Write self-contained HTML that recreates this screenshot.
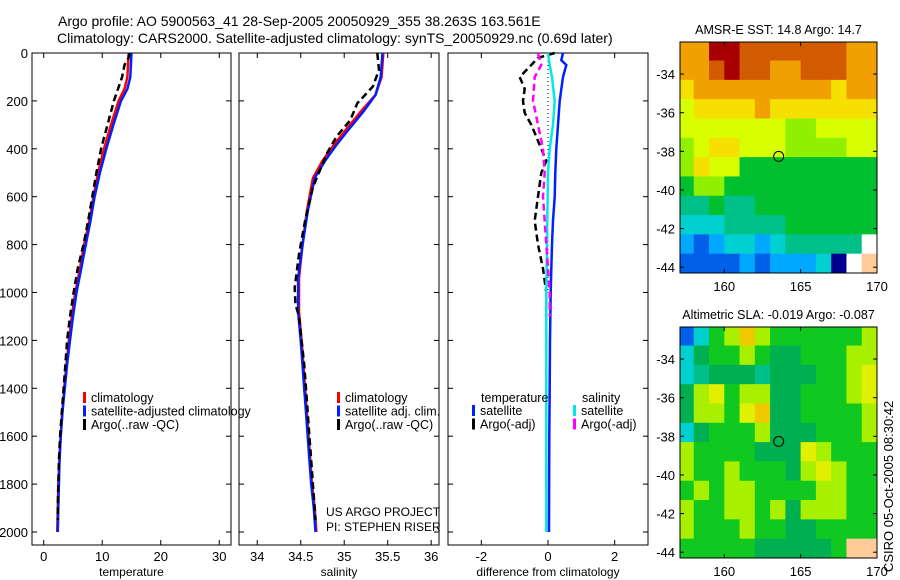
<!DOCTYPE html>
<html><head><meta charset="utf-8"><style>
html,body{margin:0;padding:0;background:#fff;}
svg{display:block;font-family:"Liberation Sans",sans-serif;}
</style></head><body>
<svg id="fig" width="900" height="580" viewBox="0 0 900 580">
<text x="58" y="26" font-size="14">Argo profile: AO 5900563_41 28-Sep-2005 20050929_355 38.263S 163.561E</text>
<text x="57" y="43" font-size="14">Climatology: CARS2000. Satellite-adjusted climatology: synTS_20050929.nc (0.69d later)</text>
<text x="326" y="516" font-size="12">US ARGO PROJECT</text>
<text x="326" y="531" font-size="12">PI: STEPHEN RISER</text>
<text transform="translate(893,572) rotate(-90)" font-size="13">CSIRO 05-Oct-2005 08:30:42</text>
</svg>
<script>
// ---------- DATA ----------
const depthTicks=[0,200,400,600,800,1000,1200,1400,1600,1800,2000];
const tempTicks=[0,10,20,30];
const salTicks=[34,34.5,35,35.5,36];
const diffTicks=[-2,0,2];
const tDepth=[0,100,150,200,300,400,500,600,700,800,900,1000,1100,1200,1300,1400,1500,1600,1700,1800,1900,2000];
const tClim=[14.5,14.3,13.8,12.8,11.5,10.3,9.3,8.5,7.8,6.9,6.2,5.4,4.8,4.3,3.9,3.5,3.2,2.9,2.7,2.5,2.4,2.3];
const tSat=[15.0,14.8,14.3,13.2,11.9,10.7,9.6,8.7,8.0,7.2,6.4,5.6,5.0,4.5,4.0,3.6,3.2,2.9,2.7,2.6,2.5,2.4];
const aDepth=[0,20,50,100,200,300,400,500,600,700,800,900,1000,1100,1200,1300,1400,1500,1600,1700,1800,1900,1950];
const tArgo=[14.7,14.5,13.8,13.4,12.0,10.9,9.8,9.0,8.3,7.6,6.8,5.8,5.1,4.5,4.0,3.7,3.4,3.1,2.8,2.6,2.5,2.4,2.4];
const sDepth=[0,100,175,245,320,384,450,522,662,802,940,1080,1200,1300,1400,1500,1600,1700,1800,1900,2000];
const sClim=[35.45,35.43,35.36,35.19,35.02,34.88,34.75,34.64,34.57,34.52,34.48,34.48,34.51,34.53,34.55,34.57,34.59,34.61,34.63,34.66,34.68];
const sSat=[35.44,35.42,35.36,35.22,35.05,34.91,34.78,34.66,34.58,34.52,34.47,34.47,34.5,34.52,34.54,34.56,34.58,34.6,34.62,34.65,34.67];
const sArgoDepth=[0,70,140,210,280,350,420,490,560,700,840,980,1050,1100,1200,1300,1400,1500,1600,1700,1800,1900,1950];
const sArgo=[35.38,35.4,35.33,35.15,35.07,34.91,34.8,34.72,34.64,34.55,34.48,34.43,34.44,34.48,34.51,34.54,34.56,34.58,34.6,34.62,34.64,34.66,34.67];
const dTSatDepth=[0,30,50,100,200,300,400,500,600,700,800,900,1000,1200,1400,1600,2000];
const dTSat=[0.45,0.4,0.55,0.45,0.35,0.3,0.25,0.22,0.2,0.15,0.12,0.1,0.08,0.06,0.05,0.04,0.03];
const dTArgoDepth=[0,20,50,100,150,200,250,300,350,400,450,500,600,700,800,900,1000,1050];
const dTArgo=[0.2,-0.3,-0.5,-0.85,-0.7,-0.75,-0.7,-0.5,-0.35,-0.2,-0.05,-0.2,-0.3,-0.4,-0.3,-0.15,-0.05,-0.05];
const dSSatDepth=[0,50,100,200,300,400,500,700,1000,2000];
const dSSat=[0.0,0.05,0.12,0.2,0.15,0.05,0.0,-0.02,-0.05,-0.05];
const dSArgoDepth=[0,50,100,200,300,400,500,600,700,800,900,1000,1100];
const dSArgo=[-0.3,-0.2,-0.4,-0.45,-0.3,-0.15,-0.1,-0.15,-0.1,-0.05,0.0,0.05,0.05];
const lonTicks=[160,165,170];
const latTicks=[-34,-36,-38,-40,-42,-44];
const palette=["#a80000","#d25a00","#f0a000","#f5e000","#d8ff00","#90f000","#00c030","#00c08a","#00d0d0","#00a8ff","#0060e8","#000090","#00d000","#ffffff","#ffcc99","#10c820","#00b050","#a8f000","#e0f000","#f0c800"];
const sstGrid=[
[2,2,0,0,1,1,1,1,1,1,1,2,2],
[2,2,1,0,1,1,2,2,1,1,1,2,2],
[3,2,2,2,2,2,2,2,2,2,3,2,2],
[4,3,3,3,3,2,3,3,3,3,3,3,3],
[4,4,4,4,4,4,4,5,5,4,4,4,4],
[5,4,3,3,4,4,4,5,5,5,5,4,4],
[5,3,4,4,6,6,6,6,6,6,6,6,6],
[6,5,5,6,6,6,6,6,6,6,6,6,6],
[7,7,6,7,7,6,6,6,6,6,6,6,6],
[8,8,8,7,7,7,7,6,6,6,6,6,6],
[9,10,9,8,8,9,8,7,7,7,7,7,13],
[10,10,10,10,9,10,9,9,9,8,11,13,14]];
const slaGrid=[
[10,8,15,17,19,17,15,15,15,15,15,15,17],
[8,16,15,15,17,15,16,16,15,15,15,17,17],
[8,7,16,16,16,7,16,16,16,15,15,17,18],
[16,17,18,15,17,17,16,16,15,15,15,17,18],
[16,17,17,15,18,19,16,16,15,15,15,15,17],
[8,16,15,15,15,17,16,16,16,15,15,15,17],
[17,15,15,15,15,16,16,16,18,17,15,15,15],
[17,15,15,17,15,15,15,16,17,18,17,15,15],
[15,17,15,17,17,15,15,15,15,17,17,15,15],
[17,15,15,17,17,15,17,16,17,17,17,15,15],
[17,15,15,15,17,15,15,16,16,15,15,15,15],
[15,15,15,15,15,16,16,16,16,16,15,14,14]];
const floatLon=163.561, floatLat=-38.263;

// ---------- DRAW ----------
const NS="http://www.w3.org/2000/svg";
const svg=document.getElementById('fig');
function mk(tag,at,parent){const e=document.createElementNS(NS,tag);for(const k in at)e.setAttribute(k,at[k]);(parent||svg).appendChild(e);return e;}
const Y0=53,Y1=545,DMAX=2000*(545-53)/(532-53);
function yD(d){return Y0+d/DMAX*(Y1-Y0);}

function panel(name,x0,x1,xmin,xmax,xt,xlabel,showY){
  const g=mk('g',{});
  
  
  const xs=v=>x0+(v-xmin)/(xmax-xmin)*(x1-x0);
  mk('rect',{x:x0,y:Y0,width:x1-x0,height:Y1-Y0,fill:'none',stroke:'#000','stroke-width':1},g);
  depthTicks.forEach(d=>{
    const y=yD(d);
    mk('line',{x1:x0,x2:x0+5,y1:y,y2:y,stroke:'#000'},g);
    mk('line',{x1:x1-5,x2:x1,y1:y,y2:y,stroke:'#000'},g);
    if(showY){const t=mk('text',{x:x0-4,y:y+5,'font-size':13,'text-anchor':'end'},g);t.textContent=d;
      
      }
  });
  xt.forEach(v=>{
    const x=xs(v);
    mk('line',{x1:x,x2:x,y1:Y1,y2:Y1-5,stroke:'#000'},g);
    mk('line',{x1:x,x2:x,y1:Y0,y2:Y0+5,stroke:'#000'},g);
    const t=mk('text',{x:x,y:Y1+16,'font-size':13,'text-anchor':'middle'},g);t.textContent=v;
    
    
  });
  const lt=mk('text',{x:(x0+x1)/2,y:576,'font-size':12,'text-anchor':'middle'},g);lt.textContent=xlabel;
  
  
  return {g,xs};
}
function line(p,depths,vals,color,dash,name,w){
  const pts=depths.map((d,i)=>p.xs(vals[i]).toFixed(1)+','+yD(d).toFixed(1)).join(' ');
  const l=mk('polyline',{points:pts,fill:'none',stroke:color,'stroke-width':w||2.5,'stroke-dasharray':dash||'none'},p.g);
  
  
}
function legend(g,x,y,items){
  items.forEach((it,i)=>{
    const yy=y+i*13.5;
    const m=mk('rect',{x:x,y:yy-10,width:3,height:11,fill:it[1]},g);
    
    
    const t=mk('text',{x:x+8,y:yy,'font-size':12.5},g);t.textContent=it[0];
    
    
  });
}
// temperature
const pT=panel('temperature-panel',32,231,-2,32,tempTicks,'temperature',true);
line(pT,tDepth,tClim,'#ff0000',null,'temp-climatology-line');
line(pT,tDepth,tSat,'#0020ff',null,'temp-satellite-line');
line(pT,aDepth,tArgo,'#000','7,4','temp-argo-line');
legend(pT.g,83,402,[['climatology','#f00'],['satellite-adjusted climatology','#0020ff'],['Argo(..raw -QC)','#000']]);
// salinity
const pS=panel('salinity-panel',239,439,33.79,36.09,salTicks,'salinity',false);
line(pS,sDepth,sClim,'#ff0000',null,'sal-climatology-line');
line(pS,sDepth,sSat,'#0020ff',null,'sal-satellite-line');
line(pS,sArgoDepth,sArgo,'#000','7,4','sal-argo-line');
legend(pS.g,337,402,[['climatology','#f00'],['satellite adj. clim.','#0020ff'],['Argo(..raw -QC)','#000']]);
// differences
const pD=panel('difference-panel',448,648,-3,3,diffTicks,'difference from climatology',false);
const z=mk('line',{x1:pD.xs(0),x2:pD.xs(0),y1:Y0,y2:yD(1000),stroke:'#000','stroke-dasharray':'1,3'},pD.g);


line(pD,dTSatDepth,dTSat,'#0020ff',null,'diff-temp-satellite-line');
line(pD,dTArgoDepth,dTArgo,'#000','7,4','diff-temp-argo-line');
line(pD,dSSatDepth,dSSat,'#00e8e8',null,'diff-sal-satellite-line');
line(pD,dSArgoDepth,dSArgo,'#ff00ff','7,4','diff-sal-argo-line');
const lh=mk('text',{x:481,y:402,'font-size':12.5},pD.g);lh.textContent='temperature';


const lh2=mk('text',{x:582,y:402,'font-size':12.5},pD.g);lh2.textContent='salinity';


legend(pD.g,472,415,[['satellite','#0020ff'],['Argo(-adj)','#000']]);
legend(pD.g,573,415,[['satellite','#00e8e8'],['Argo(-adj)','#ff00ff']]);

// maps
function map(name,y0,y1,grid,title){
  const x0=680,x1=877,LON0=157.1,LON1=170,LAT0=-32.34,LAT1=-44.3;
  const g=mk('g',{});
  
  
  const xs=v=>x0+(v-LON0)/(LON1-LON0)*(x1-x0);
  const ys=v=>y0+(v-LAT0)/(LAT1-LAT0)*(y1-y0);
  const cp='clip-'+name;
  const c=mk('clipPath',{id:cp},g);mk('rect',{x:x0,y:y0,width:x1-x0,height:y1-y0},c);
  const cg=mk('g',{'clip-path':'url(#'+cp+')'},g);
  grid.forEach((row,r)=>row.forEach((v,cI)=>{
    const lon=157+cI, lat=-32.3-r;
    const xa=xs(lon),xb=xs(lon+1),ya=ys(lat),yb=ys(lat-1);
    const cell=mk('rect',{x:xa,y:ya,width:xb-xa+0.6,height:yb-ya+0.6,fill:palette[v]},cg);
    
    
  }));
  mk('rect',{x:x0,y:y0,width:x1-x0,height:y1-y0,fill:'none',stroke:'#000'},g);
  lonTicks.forEach(v=>{const x=xs(v);
    mk('line',{x1:x,x2:x,y1:y0,y2:y0+4,stroke:'#000'},g);
    mk('line',{x1:x,x2:x,y1:y1,y2:y1-4,stroke:'#000'},g);
    const t=mk('text',{x:x,y:y1+18,'font-size':13,'text-anchor':'middle'},g);t.textContent=v;
    
    });
  latTicks.forEach(v=>{const y=ys(v);
    mk('line',{x1:x0,x2:x0+4,y1:y,y2:y,stroke:'#000'},g);
    mk('line',{x1:x1-4,x2:x1,y1:y,y2:y,stroke:'#000'},g);
    const t=mk('text',{x:x0-5,y:y+5,'font-size':13,'text-anchor':'end'},g);t.textContent=v;
    
    });
  const ci=mk('circle',{cx:xs(floatLon),cy:ys(floatLat),r:5,fill:'none',stroke:'#000'},g);
  
  
  const t=mk('text',{x:(x0+x1)/2,y:y0-8,'font-size':12.5,'text-anchor':'middle'},g);t.textContent=title;
  
  
}
map('sst-map',42,273,sstGrid,'AMSR-E SST: 14.8 Argo: 14.7');
map('sla-map',327,558,slaGrid,'Altimetric SLA: -0.019 Argo: -0.087');
</script>
</body></html>
